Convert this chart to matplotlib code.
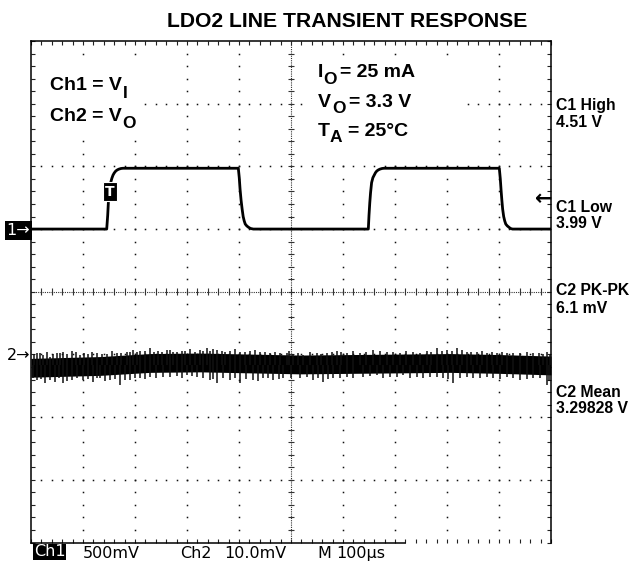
import numpy as np
import matplotlib
matplotlib.use('Agg')
import matplotlib.pyplot as plt
from matplotlib.patches import Rectangle

W, H, DPI = 634, 565, 100

# ---------------- data ----------------
# Ch1 = V_I (time in µs, volts)
ch1_t = [0, 145.6, 147.5, 149, 151, 153, 155.5, 157.7, 160, 163, 166, 169, 173, 177,
         398.7, 400.5, 402, 404, 406, 408, 410, 412, 415, 418, 422, 427.5,
         648.7, 650, 651.5, 653, 655, 657.5, 660, 662.5, 665, 668, 671, 675, 679,
         900.6, 902.5, 904, 905.5, 907, 909, 911, 913, 916, 919, 922, 926, 1000]
ch1_v = [3.99, 3.99, 4.10, 4.22, 4.30, 4.357, 4.395, 4.42, 4.437, 4.453, 4.462, 4.468, 4.473, 4.475,
         4.475, 4.40, 4.31, 4.22, 4.15, 4.09, 4.055, 4.03, 4.015, 4.005, 3.995, 3.99,
         3.99, 4.10, 4.20, 4.28, 4.36, 4.40, 4.42, 4.44, 4.453, 4.462, 4.468, 4.473, 4.475,
         4.475, 4.39, 4.30, 4.22, 4.15, 4.09, 4.055, 4.03, 4.015, 4.005, 3.995, 3.99, 3.99]

# Ch2 = V_O : band centre (mV relative to mean) and core half width
ch2_t = [0, 133, 229, 325, 421, 517, 613, 710, 806, 902, 1000]
ch2_center_mv = [-0.45, -0.16, 0.32, 0.40, 0.24, 0.08, 0.16, 0.24, 0.32, 0.16, -0.08]
ch2_core_mv = 1.5
# noise spikes (µs, mV relative to mean)
ch2_up_t = [10.9, 23.7, 36.5, 49.4, 62.2, 78.2, 94.2, 110.3, 126.3, 145.5, 164.7, 183.9, 196.8,
            209.6, 228.8, 244.8, 260.8, 273.7, 289.7, 305.8, 325.0, 337.8, 350.6, 366.7, 382.7,
            401.9, 421.2, 440.4, 459.6, 478.8, 491.6, 504.5, 523.7, 549.3, 568.5, 587.8, 607.0,
            632.6, 658.3, 684.0, 709.6, 735.2, 760.9, 780.1, 799.3, 818.5, 837.8, 857.0, 876.2,
            895.5, 914.7, 940.3, 966.0, 985.2, 998.0,
            5, 17, 30, 43, 56, 70, 86, 102, 118, 136, 155, 174, 190, 203, 219, 237, 252, 267,
            281, 297, 315, 331, 344, 358, 374, 392, 411, 430, 450, 469, 497, 514, 536, 558,
            578, 597, 620, 645, 671, 697, 722, 748, 770, 790, 809, 828, 847, 867, 886, 905,
            927, 953, 976, 992]
ch2_up_mv = [1.86, 1.59, 1.33, 1.86, 2.13, 2.29, 1.59, 1.75, 1.86, 1.75, 1.97, 2.13, 2.39,
             2.29, 2.66, 2.29, 2.39, 2.13, 2.29, 2.50, 2.39, 2.66, 2.55, 2.29, 2.29,
             2.13, 2.29, 2.13, 1.86, 1.86, 1.97, 1.75, 1.59, 1.97, 1.97, 2.29, 1.86,
             1.97, 2.39, 2.13, 1.97, 2.13, 2.29, 2.66, 2.39, 2.66, 2.13, 2.13, 1.97,
             1.86, 1.97, 1.86, 1.97, 1.75, 1.59,
             1.7, 1.9, 2.0, 1.7, 1.9, 1.8, 2.0, 1.9, 2.1, 1.8, 2.2, 1.9, 2.1, 2.0, 2.3, 2.1, 2.0, 2.4,
             2.0, 2.2, 2.1, 2.3, 2.2, 2.4, 2.1, 2.5, 2.0, 2.4, 2.1, 2.0, 2.2, 1.9, 2.1, 1.8,
             2.0, 2.1, 2.2, 2.0, 2.2, 2.0, 2.2, 1.9, 2.1, 2.3, 2.2, 2.4, 2.0, 2.2, 2.0, 2.1,
             1.9, 2.1, 1.9, 2.0]
ch2_dn_t = [10.9, 26.9, 46.2, 62.2, 78.2, 100.6, 119.9, 132.7, 151.9, 171.1, 190.4, 209.6, 228.8,
            254.5, 280.1, 299.3, 318.6, 344.2, 357.0, 382.7, 401.9, 427.5, 446.8, 466.0, 485.2,
            517.3, 542.9, 562.1, 581.4, 607.0, 639.1, 664.7, 690.3, 716.0, 741.6, 767.3, 792.9,
            812.1, 837.8, 863.4, 889.0, 914.7, 940.3, 966.0, 991.6,
            4, 19, 36, 54, 70, 89, 110, 126, 142, 161, 181, 200, 219, 241, 267, 290, 309, 331,
            350, 370, 392, 414, 437, 456, 476, 500, 530, 552, 572, 594, 620, 652, 677, 703,
            729, 754, 780, 802, 825, 850, 876, 902, 927, 953, 979, 997]
ch2_dn_mv = [-2.39, -2.92, -2.66, -2.92, -2.39, -2.39, -2.66, -2.13, -2.39, -3.19, -2.39, -2.13, -1.86,
             -1.86, -1.75, -1.59, -1.86, -2.39, -2.92, -2.39, -2.92, -2.39, -2.13, -2.39, -2.13,
             -2.13, -2.39, -2.66, -2.13, -1.86, -1.86, -1.59, -1.86, -1.59, -1.86, -1.86, -2.13,
             -2.92, -1.86, -2.13, -2.13, -1.86, -2.39, -2.13, -3.19,
             -2.0, -2.2, -2.4, -2.0, -2.6, -2.1, -2.3, -2.0, -2.5, -2.2, -2.4, -2.0, -2.2, -2.0,
             -1.9, -2.0, -1.8, -2.1, -2.2, -2.0, -2.1, -2.2, -2.5, -2.0, -2.2, -2.0, -1.9, -2.1,
             -2.3, -2.0, -2.1, -1.8, -2.0, -1.9, -2.0, -2.1, -1.9, -2.3, -2.1, -2.0, -1.9, -2.2,
             -2.0, -2.3, -2.1, -2.6]

title = "LDO2 LINE TRANSIENT RESPONSE"
meas_labels = [("C1 High", "4.51 V"), ("C1 Low", "3.99 V"),
               ("C2 PK-PK", "6.1 mV"), ("C2 Mean", "3.29828 V")]

# scope settings
CH1_VDIV, CH1_REF_V, CH1_REF_DIV = 0.5, 3.99, 1.0
CH2_MVDIV, CH2_MEAN_DIV = 10.0, -1.168

# ---------------- figure ----------------
fig = plt.figure(figsize=(W / DPI, H / DPI), dpi=DPI)
ax = fig.add_axes([31 / W, 1 - 542.5 / H, 520 / W, 501.5 / H])
ax.set_xlim(0, 1000)
ax.set_ylim(-4, 4)

def fx(px):
    return px / W

def fy(py):
    return 1 - py / H

# graticule
dot = dict(ls='none', marker='s', ms=1.1, mew=0, color='#111')
yk = np.arange(-19, 20) * 0.2
xk = np.arange(1, 50) * 20
for i in range(1, 10):
    if i != 5:
        ax.plot(np.full_like(yk, i * 100.0), yk, **dot)
for j in range(-3, 4):
    if j != 0:
        ax.plot(xk, np.full_like(xk, float(j), dtype=float), **dot)
ax.axhline(0, ls=(0, (1, 1)), lw=0.8, color='#333')
ax.axvline(500, ls=(0, (1, 1)), lw=0.8, color='#333')
ax.vlines(xk, -0.055, 0.055, lw=0.8, color='#333')
ax.hlines(yk, 494, 506, lw=0.8, color='#333')

for s in ['top', 'left', 'right']:
    ax.spines[s].set_linewidth(1.1)
ax.spines['bottom'].set_visible(False)
ax.plot([0, 719], [-4, -4], color='black', lw=1.1, clip_on=False)
ax.set_xticks(np.arange(0, 1001, 20))
ax.set_yticks(np.arange(-20, 21) * 0.2)
ax.tick_params(direction='in', length=2.6, width=0.8, top=True, right=True,
               labelbottom=False, labelleft=False, color='#222')

# Ch2 noise band
c = [CH2_MEAN_DIV + m / CH2_MVDIV for m in ch2_center_mv]
ax.fill_between(ch2_t, [v - ch2_core_mv / CH2_MVDIV for v in c],
                [v + ch2_core_mv / CH2_MVDIV for v in c], color='black', lw=0, zorder=3)
ax.vlines(ch2_up_t, CH2_MEAN_DIV, [CH2_MEAN_DIV + m / CH2_MVDIV for m in ch2_up_mv],
          lw=1.1, color='#111', zorder=3)
ax.vlines(ch2_dn_t, CH2_MEAN_DIV, [CH2_MEAN_DIV + m / CH2_MVDIV for m in ch2_dn_mv],
          lw=1.1, color='#111', zorder=3)

# Ch1 trace
ax.plot(ch1_t, [CH1_REF_DIV + (v - CH1_REF_V) / CH1_VDIV for v in ch1_v],
        color='black', lw=2.0, zorder=4, solid_joinstyle='round')

# white boxes behind annotation text
for (x0, y0, x1, y1) in [(40, 65, 137, 135), (310, 57, 463, 157)]:
    fig.patches.append(Rectangle((fx(x0), fy(y1)), (x1 - x0) / W, (y1 - y0) / H,
                                 transform=fig.transFigure, fc='white', ec='none', zorder=1))

B = dict(family='Liberation Sans', weight='bold', color='black')

def t(x, y, s, size):
    fig.text(fx(x), fy(y), s, fontsize=size, ha='left', va='baseline', zorder=5, **B)

# title
fig.text(fx(347), fy(27.3), title, fontsize=15.2, ha='center', va='baseline', **B)

# channel legend
t(50, 90, "Ch1 = V", 14)
t(123, 98, "I", 12.5)
t(50, 121, "Ch2 = V", 14)
t(122, 128, "O", 12.5)

# conditions
t(318, 77, "I", 14)
t(323, 84, "O", 12.5)
t(340, 77, "= 25 mA", 14)
t(318, 107, "V", 14)
t(332, 113, "O", 12.5)
t(349, 107, "= 3.3 V", 14)
t(318, 136, "T", 14)
t(329.5, 142, "A", 12.5)
t(348, 136, "= 25°C", 14)

# measurement labels
ybase = [(110, 126.7), (211.7, 228.3), (295, 312.7), (396.7, 413.3)]
for (a, b), (y1, y2) in zip(meas_labels, ybase):
    t(556, y1, a, 11.3)
    t(556, y2, b, 11.3)

# markers
N = dict(family='DejaVu Sans', color='black')
fig.text(fx(18.5), fy(230.5), "1→", fontsize=11.5, ha='center', va='center', color='white',
         family='DejaVu Sans', bbox=dict(boxstyle='square,pad=0.1', fc='black', ec='none'))
fig.text(fx(19), fy(356), "2→", fontsize=11.5, ha='center', va='center', **N)
fig.text(fx(552), fy(199), "←", fontsize=15, ha='right', va='center', weight='bold', **N)
fig.text(fx(110), fy(191.5), "T", fontsize=10, ha='center', va='center', color='white',
         family='DejaVu Sans', weight='bold',
         bbox=dict(boxstyle='square,pad=0.15', fc='black', ec='white', lw=0.8))

# bottom status line
fig.text(fx(49.5), fy(552), "Ch1", fontsize=11.5, ha='center', va='center', color='white',
         family='DejaVu Sans', bbox=dict(boxstyle='square,pad=0.05', fc='black', ec='none'))
fig.text(fx(83), fy(558.3), "500mV", fontsize=11.5, ha='left', va='baseline', **N)
fig.text(fx(180), fy(558.3), "Ch2", fontsize=11.5, ha='left', va='baseline', **N)
fig.text(fx(224), fy(558.3), "10.0mV", fontsize=11.5, ha='left', va='baseline', **N)
fig.text(fx(317), fy(558.3), "M", fontsize=11.5, ha='left', va='baseline', **N)
fig.text(fx(336), fy(558.3), "100µs", fontsize=11.5, ha='left', va='baseline', **N)

fig.savefig('out.png', dpi=DPI, facecolor='white')
